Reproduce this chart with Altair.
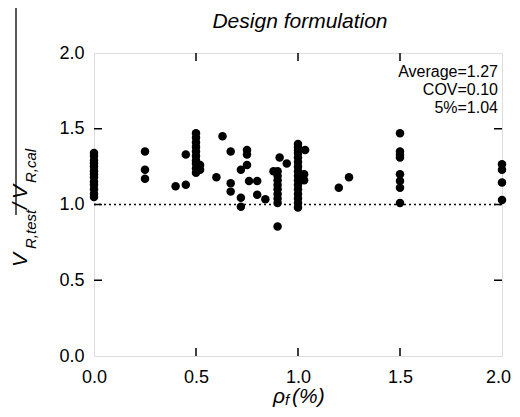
import altair as alt
import pandas as pd

# Fibre ratio rho_f (%) columns and the V_R,test / V_R,cal values read at each
x_pos = [0.0, 0.25, 0.40, 0.45, 0.50, 0.52, 0.60, 0.63, 0.67, 0.72, 0.75, 0.76,
         0.80, 0.84, 0.88, 0.90, 0.91, 0.945, 1.0, 1.03, 1.035, 1.20, 1.25, 1.50, 2.0]
y_groups = [
    [1.05, 1.07, 1.10, 1.13, 1.15, 1.18, 1.20, 1.22, 1.25, 1.27, 1.29, 1.32, 1.34],
    [1.35, 1.23, 1.17],
    [1.12],
    [1.13, 1.33],
    [1.47, 1.44, 1.41, 1.38, 1.35, 1.32, 1.29, 1.27, 1.24, 1.21],
    [1.26, 1.23],
    [1.18],
    [1.45],
    [1.35, 1.14, 1.085],
    [1.23, 1.045, 0.985],
    [1.26, 1.36, 1.33],
    [1.155],
    [1.155, 1.065],
    [1.035],
    [1.22],
    [1.22, 1.19, 1.16, 1.13, 1.10, 1.07, 1.04, 1.01, 0.855],
    [1.31],
    [1.27],
    [1.40, 1.38, 1.36, 1.34, 1.31, 1.28, 1.25, 1.22, 1.19, 1.16, 1.13, 1.10,
     1.07, 1.04, 1.01, 0.98],
    [1.20, 1.16],
    [1.36],
    [1.11],
    [1.18],
    [1.47, 1.35, 1.33, 1.31, 1.20, 1.155, 1.11, 1.01],
    [1.265, 1.23, 1.145, 1.03],
]
tick_values = [0.0, 0.5, 1.0, 1.5, 2.0]
inner_ticks = [0.5, 1.0, 1.5]
stats_lines = ["Average=1.27", "COV=0.10", "5%=1.04"]

rows = []
for xv, ys in zip(x_pos, y_groups):
    for yv in ys:
        rows.append({"rho": xv, "ratio": yv})
df = pd.DataFrame(rows)
ticks_df = pd.DataFrame({"t": inner_ticks})
one = pd.DataFrame({"a": [0]})

W, H = 408, 303
FONT = "Liberation Sans"

xscale = alt.Scale(domain=[0, 2], nice=False, zero=False)
yscale = alt.Scale(domain=[0, 2], nice=False, zero=False)
xaxis = alt.Axis(values=tick_values, format=".1f", ticks=False, domain=False,
                 grid=False, labelFontSize=18, labelColor="black", labelFont=FONT,
                 labelPadding=12, labelFlush=False, labelOverlap=False,
                 labelOffset={"condition": {"test": "datum.value == 2", "value": -4},
                              "value": 0})
yaxis = alt.Axis(values=tick_values, format=".1f", ticks=False, domain=False,
                 grid=False, labelFontSize=18, labelColor="black", labelFont=FONT,
                 labelPadding=10, labelOverlap=False)

points = alt.Chart(df).mark_circle(size=72, color="black", opacity=1).encode(
    x=alt.X("rho:Q", scale=xscale, axis=xaxis, title=None),
    y=alt.Y("ratio:Q", scale=yscale, axis=yaxis, title=None),
)

ref = alt.Chart(one).mark_rule(color="black", strokeWidth=1.5, strokeDash=[2, 3]).encode(
    y=alt.datum(1.0, scale=yscale, axis=yaxis, title=None),
    x=alt.value(0), x2=alt.value(W),
)

tb = alt.Chart(ticks_df).mark_rule(color="black", strokeWidth=1.5).encode(
    x=alt.X("t:Q", scale=xscale, axis=xaxis, title=None),
    y=alt.value(H), y2=alt.value(H - 8))
tt = alt.Chart(ticks_df).mark_rule(color="black", strokeWidth=1.5).encode(
    x=alt.X("t:Q", scale=xscale, axis=xaxis, title=None),
    y=alt.value(0), y2=alt.value(8))
tl = alt.Chart(ticks_df).mark_rule(color="black", strokeWidth=1.5).encode(
    y=alt.Y("t:Q", scale=yscale, axis=yaxis, title=None),
    x=alt.value(0), x2=alt.value(8))
tr = alt.Chart(ticks_df).mark_rule(color="black", strokeWidth=1.5).encode(
    y=alt.Y("t:Q", scale=yscale, axis=yaxis, title=None),
    x=alt.value(W - 8), x2=alt.value(W))


def txt(s, x, y, size, align="left", angle=0, italic=True):
    kw = dict(font=FONT, fontSize=size, align=align, baseline="alphabetic",
              color="black")
    if italic:
        kw["fontStyle"] = "italic"
    if angle:
        kw["angle"] = angle
    return alt.Chart(one).mark_text(**kw).encode(
        x=alt.value(x), y=alt.value(y), text=alt.value(s))


texts = [
    txt("Design formulation", 206, -25, 21, align="center"),
    txt(stats_lines[0], 404, 24, 16, align="right", italic=False),
    txt(stats_lines[1], 404, 42, 16, align="right", italic=False),
    txt(stats_lines[2], 404, 60, 16, align="right", italic=False),
    # y title V_R,test / V_R,cal
    txt("V", -67, 214, 21, angle=270),
    txt("R,test", -58, 196, 15, angle=270),
    txt("/", -67, 156, 21, angle=270),
    txt("V", -67, 146, 21, angle=270),
    txt("R,cal", -58, 130, 15, angle=270),
    # x title rho_f(%)
    txt("ρ", 179, 350, 21),
    txt("f", 191, 352, 15),
    txt("(%)", 198, 350, 21),
]

edge = alt.Chart(one).mark_rule(color="black", strokeWidth=1.3).encode(
    x=alt.value(-78), y=alt.value(-45), y2=alt.value(162))

chart = alt.layer(ref, points, tb, tt, tl, tr, edge, *texts).properties(
    width=W, height=H,
    autosize=alt.AutoSizeParams(type="none"),
    padding={"left": 86, "top": 45, "right": 10, "bottom": 53},
).configure_view(stroke="black", strokeWidth=1.5).configure(background="white")

chart.save("out.html", embed_options={"renderer": "svg", "actions": False})
